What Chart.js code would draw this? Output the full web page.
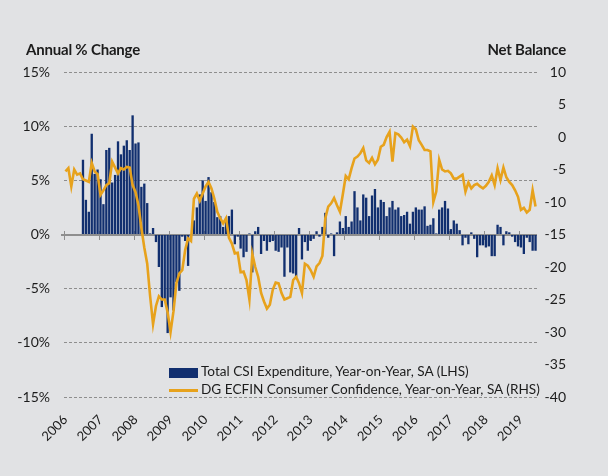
<!DOCTYPE html>
<html>
<head>
<meta charset="utf-8">
<title>CSI Expenditure vs Consumer Confidence</title>
<script src="https://cdn.jsdelivr.net/npm/chart.js@4.4.1/dist/chart.umd.min.js"></script>
<style>
    html, body { margin: 0; padding: 0; background: #e1e2e4; }
    #wrap { position: relative; width: 608px; height: 476px; font-family: Lato, "Open Sans", sans-serif; color: #1c1c1c; }
    #chart { position: absolute; left: 0; top: 0; }
    .axis-title { position: absolute; top: 40px; font-size: 15px; font-weight: bold; line-height: 18px; white-space: nowrap; letter-spacing: -0.2px; }
    #title-left { left: 26px; }
    #title-right { right: 42px; }
    #legend { position: absolute; left: 169px; top: 362px; font-size: 13.6px; line-height: 18px; white-space: nowrap; }
    #legend .swatch { display: inline-block; width: 29px; margin-right: 3px; vertical-align: middle; }
</style>
</head>
<body>
<div id="wrap">
    <canvas id="chart" width="608" height="476"></canvas>
    <div class="axis-title" id="title-left">Annual % Change</div>
    <div class="axis-title" id="title-right">Net Balance</div>
    <div id="legend"></div>
</div>
<script>
"use strict";

// Monthly data, Jan 2006 - Jun 2019
const years = [2006, 2007, 2008, 2009, 2010, 2011, 2012, 2013, 2014, 2015, 2016, 2017, 2018, 2019];
const monthsInLastYear = 6;

// Total CSI expenditure, y/y % (LHS) - no data before Jul 2006
const csiSpend = [
    null, null, null, null, null, null, 6.9, 3.2, 2.1, 9.3, 5.6, 6.0,
    5.1, 2.8, 7.8, 8.0, 4.8, 5.5, 8.6, 7.4, 8.2, 8.7, 7.8, 11.0,
    8.4, 8.5, 4.4, 4.7, 2.9, 0.1, 0.6, -0.7, -3.0, -6.7, -6.0, -9.1,
    -5.8, -7.0, -4.4, -5.2, -0.2, -0.6, -2.9, 0.0, 1.3, 2.5, 3.7, 5.0,
    3.1, 5.3, 3.9, 3.0, 1.6, 1.7, 0.7, 1.3, 1.7, 2.3, -0.9, -0.2,
    -1.3, -2.1, -1.6, 0.1, -3.5, 0.3, 0.7, -1.8, -0.6, -1.5, -0.7, -0.6,
    -1.5, -1.6, -1.2, -3.9, -1.2, -3.5, -3.6, -3.9, 0.6, -2.3, -0.7, -1.5,
    -0.6, -0.4, 0.3, -0.2, 0.7, 2.0, -0.3, 0.1, -2.0, 0.2, 1.2, 0.6,
    1.7, 0.7, 1.2, 4.0, 2.5, 1.3, 3.7, 3.4, 1.7, 3.6, 4.2, 2.5,
    3.2, 3.0, 1.7, 2.5, 3.1, 2.3, 2.5, 1.7, 1.8, 2.1, 1.0, 2.1,
    2.5, 2.3, 2.3, 2.6, 0.8, 0.9, 1.5, 0.1, 2.3, 2.5, 3.1, 2.4,
    0.5, 1.3, 1.0, 0.4, -1.0, -0.3, -0.9, 0.2, -0.4, -2.1, -1.0, -1.0,
    -1.2, -1.1, -2.0, -2.0, 0.9, 0.7, -1.0, 0.3, 0.2, -0.2, -0.7, -1.1,
    -1.2, -1.8, -0.3, -0.7, -1.5, -1.5
];

// DG ECFIN consumer confidence, net balance (RHS)
const consumerConf = [
    -5.3, -4.8, -7.6, -5.0, -5.8, -5.6, -6.5, -6.7, -6.9, -4.0, -5.3, -5.7,
    -8.9, -8.2, -7.4, -7.1, -3.8, -4.7, -5.6, -4.8, -5.0, -4.6, -4.7, -7.4,
    -8.5, -10.5, -14.0, -17.0, -19.5, -24.5, -28.8, -26.0, -24.5, -25.0, -25.0, -27.0,
    -30.0, -26.8, -22.5, -21.0, -20.5, -17.4, -15.6, -16.0, -9.5, -8.7, -9.8, -8.7,
    -7.6, -6.9, -7.9, -9.5, -11.5, -12.5, -13.3, -12.5, -15.5, -16.4, -17.9, -17.8,
    -20.8, -20.7, -22.0, -25.0, -18.0, -20.0, -21.5, -24.0, -25.3, -26.4, -25.8, -23.5,
    -22.4, -22.5, -24.0, -25.0, -24.8, -24.6, -22.0, -21.5, -22.5, -24.0, -19.5, -19.8,
    -20.5, -21.5, -19.9, -19.4, -18.3, -12.5, -10.7, -10.2, -9.4, -10.5, -11.5, -8.8,
    -6.0, -6.5, -4.8, -3.3, -3.0, -2.5, -1.7, -3.6, -4.0, -3.2, -4.2, -3.5,
    -1.5, -1.2, 0.0, 0.8, -3.8, 0.6, 0.4, -0.1, -0.8, -0.4, -1.4, 1.6,
    1.2, -0.5, -1.2, -2.0, -2.0, -2.2, -10.0, -8.4, -3.5, -5.0, -5.3, -5.2,
    -5.6, -6.4, -6.4, -6.1, -5.8, -8.4, -7.0, -7.9, -7.4, -7.2, -7.6, -7.9,
    -7.5, -6.9, -5.9, -7.4, -4.8, -6.6, -4.7, -6.2, -6.9, -7.4, -8.2, -9.2,
    -11.2, -10.9, -11.6, -11.2, -8.2, -10.7
];

const seriesNames = [
    "Total CSI Expenditure, Year-on-Year, SA (LHS)",
    "DG ECFIN Consumer Confidence, Year-on-Year, SA (RHS)"
];

// Category labels, one per month
let labels = [];
years.forEach(function (yr, i) {
    let n = i === years.length - 1 ? monthsInLastYear : 12;
    for (let m = 1; m <= n; m++) {
        labels.push(yr + "-" + (m < 10 ? "0" + m : m));
    }
});

const navy = "#112f6f";
const gold = "#e7a21c";
const gridGrey = "#8e8e8e";
const tickFont = { family: "Lato, 'Open Sans', sans-serif", size: 14 };

// Zero line plus year tick marks, drawn across the 0% level
const zeroAxis = {
    id: "zeroAxis",
    beforeDatasetsDraw: function (chart) {
        const ctx = chart.ctx;
        const area = chart.chartArea;
        const xs = chart.scales.x;
        const y0 = Math.round(chart.scales.y.getPixelForValue(0));
        const half = (xs.getPixelForValue(1) - xs.getPixelForValue(0)) / 2;

        ctx.save();
        ctx.strokeStyle = gridGrey;
        ctx.lineWidth = 2;
        ctx.beginPath();
        ctx.moveTo(area.left - 3, y0);
        ctx.lineTo(area.right, y0);
        ctx.stroke();

        ctx.lineWidth = 1;
        ctx.beginPath();
        labels.forEach(function (l, i) {
            if (i % 12 === 0) {
                let px = Math.round(xs.getPixelForValue(i) - half) + 0.5;
                ctx.moveTo(px, y0 - 4);
                ctx.lineTo(px, y0 + 5);
            }
        });
        ctx.stroke();
        ctx.restore();
    }
};

const chart = new Chart(document.getElementById("chart"), {
    data: {
        labels: labels,
        datasets: [
            {
                type: "line",
                label: seriesNames[1],
                data: consumerConf,
                yAxisID: "y1",
                borderColor: gold,
                borderWidth: 2.6,
                pointRadius: 0,
                tension: 0,
                order: 0
            },
            {
                type: "bar",
                label: seriesNames[0],
                data: csiSpend,
                yAxisID: "y",
                backgroundColor: navy,
                borderWidth: 0,
                barPercentage: 0.8,
                categoryPercentage: 1,
                order: 1
            }
        ]
    },
    options: {
        responsive: false,
        animation: false,
        layout: { padding: { left: 0, right: 42, top: 72, bottom: 0 } },
        plugins: {
            legend: { display: false },
            tooltip: { enabled: false }
        },
        scales: {
            x: {
                offset: true,
                grid: { display: false, drawTicks: false },
                border: { display: false },
                ticks: {
                    autoSkip: false,
                    minRotation: 45,
                    maxRotation: 45,
                    padding: 15,
                    color: "#1c1c1c",
                    font: { family: tickFont.family, size: 13 },
                    callback: function (v, i) {
                        return i % 12 === 0 ? String(years[i / 12]) : "";
                    }
                },
                afterFit: function (s) { s.height = 79; }
            },
            y: {
                position: "left",
                min: -15,
                max: 15,
                grid: {
                    drawTicks: false,
                    color: function (c) { return c.tick.value === 0 ? "rgba(0,0,0,0)" : gridGrey; }
                },
                border: { display: false, dash: [3, 2] },
                ticks: {
                    stepSize: 5,
                    padding: 14,
                    color: "#1c1c1c",
                    font: tickFont,
                    callback: function (v) { return v + "%"; }
                },
                afterFit: function (s) { s.width = 64; }
            },
            y1: {
                position: "right",
                min: -40,
                max: 10,
                grid: { display: false, drawTicks: false },
                border: { display: false },
                ticks: {
                    stepSize: 5,
                    crossAlign: "far",
                    color: "#1c1c1c",
                    font: tickFont
                },
                afterFit: function (s) { s.width = 29; }
            }
        }
    },
    plugins: [zeroAxis]
});

// Legend, bars first then line
const legend = document.getElementById("legend");
[1, 0].forEach(function (idx) {
    const ds = chart.data.datasets[idx];
    const row = document.createElement("div");
    const sw = document.createElement("span");
    sw.className = "swatch";
    if (ds.type === "bar") {
        sw.style.height = "10px";
        sw.style.background = ds.backgroundColor;
    } else {
        sw.style.height = "3px";
        sw.style.background = ds.borderColor;
    }
    row.appendChild(sw);
    row.appendChild(document.createTextNode(ds.label));
    legend.appendChild(row);
});
</script>
</body>
</html>
